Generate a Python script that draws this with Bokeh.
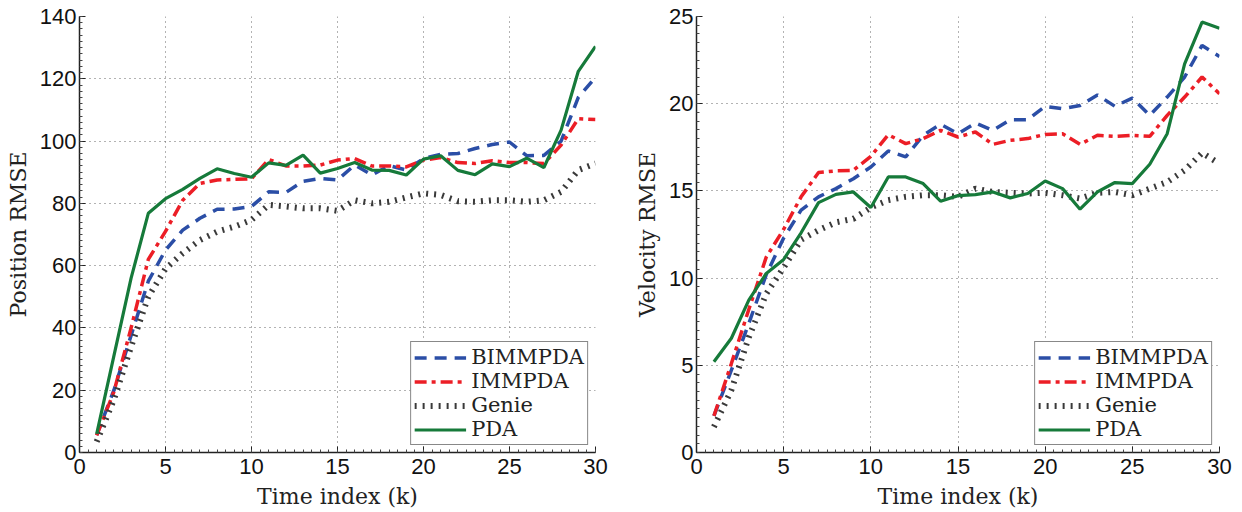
from bokeh.plotting import figure
from bokeh.layouts import row
from bokeh.models import Legend, LegendItem, FixedTicker, Range1d
from bokeh.embed import file_html
from bokeh.resources import INLINE

k = list(range(1, 31))
series_names = ["BIMMPDA", "IMMPDA", "Genie", "PDA"]

pos_bimmpda = [5.6, 20, 37.6, 55, 65, 71.4, 75.2, 78.1, 78.2, 79, 83.7, 83.5, 87.1, 88, 87.5,
               92.3, 89.1, 92.1, 90.7, 94.4, 95.7, 96, 97.6, 98.9, 99.7, 95.3, 95.4, 100, 114, 120.5]
pos_immpda = [5.5, 19.5, 40, 62, 71, 81, 86.4, 87.5, 87.7, 87.9, 94.1, 92, 92, 92.3, 93.9,
              94.4, 92, 92, 91.7, 93.9, 94.7, 93.1, 92.8, 93.7, 93.1, 93.1, 92.8, 98.7, 107.2, 106.9]
pos_genie = [3.5, 17, 34, 50, 59, 64, 68.2, 70.9, 72.5, 74.7, 79.5, 79, 78.4, 78.4, 77.6,
             81, 80, 80.5, 81.9, 83.2, 82.7, 80.7, 80.5, 81, 81, 80.5, 81, 83.7, 90.7, 92.8]
pos_pda = [6, 31, 56, 76.8, 81.5, 84.5, 88, 91.1, 89.6, 88.4, 93, 92.2, 95.5, 89.7, 91.2,
           93.1, 90.7, 90.6, 89.1, 94.2, 95.3, 90.6, 89.2, 92.7, 91.8, 94.5, 91.5, 103.5, 122.4, 130.4]

vel_bimmpda = [2.1, 4.72, 7.4, 10.2, 12.3, 13.9, 14.66, 15.13, 15.7, 16.37, 17.29, 16.95, 18.19, 18.82, 18.28,
               18.89, 18.47, 19.08, 19.08, 19.85, 19.71, 19.9, 20.5, 19.85, 20.32, 19.33, 20.38, 21.53, 23.34, 22.71]
vel_immpda = [2.1, 5.1, 8.2, 11.2, 12.8, 14.66, 16.05, 16.15, 16.18, 16.98, 18.22, 17.71, 18.0, 18.47, 18.09,
              18.38, 17.67, 17.9, 18.0, 18.24, 18.28, 17.67, 18.19, 18.13, 18.19, 18.13, 19.33, 20.38, 21.53, 20.57]
vel_genie = [1.47, 3.58, 6.6, 9.1, 10.6, 12.2, 12.75, 13.2, 13.4, 14.05, 14.47, 14.66, 14.75, 14.75, 14.66,
             15.13, 14.94, 14.89, 14.85, 14.89, 14.75, 14.56, 14.89, 14.94, 14.75, 15.13, 15.51, 16.18, 17.18, 16.56]
vel_pda = [5.2, 6.55, 8.74, 10.27, 11.07, 12.6, 14.33, 14.8, 14.94, 14.05, 15.8, 15.8, 15.42, 14.41, 14.73,
           14.79, 14.94, 14.6, 14.85, 15.57, 15.13, 13.95, 14.94, 15.48, 15.42, 16.53, 18.28, 22.29, 24.68, 24.33]

x_ticks = [0, 5, 10, 15, 20, 25, 30]
pos_ticks = [0, 20, 40, 60, 80, 100, 120, 140]
vel_ticks = [0, 5, 10, 15, 20, 25]

styles = {
    "BIMMPDA": dict(line_color="#2B4EA6", line_width=3.5, line_dash="12 8"),
    "IMMPDA": dict(line_color="#EC1E26", line_width=3.5, line_dash="12 5 4 5"),
    "Genie": dict(line_color="#3A3A3A", line_width=6, line_dash="2 6", line_cap="butt"),
    "PDA": dict(line_color="#167A3A", line_width=3.2),
}

TICK_FONT = "Liberation Sans"
SERIF = "DejaVu Serif"


def make_fig(ylabel, ymax, yticks, ystep_minor, data, fw, bl, br):
    p = figure(frame_width=fw, frame_height=436, output_backend="svg", toolbar_location=None,
               x_range=Range1d(0, 30), y_range=Range1d(0, ymax),
               min_border_left=bl, min_border_right=br, min_border_top=16, min_border_bottom=50)
    p.outline_line_color = None
    p.background_fill_color = "white"
    p.border_fill_color = "white"
    minor_x = [i * 0.5 for i in range(0, 61)]
    minor_y = []
    v = 0.0
    while v <= ymax + 1e-9:
        minor_y.append(round(v, 3))
        v += ystep_minor
    p.xaxis.ticker = FixedTicker(ticks=x_ticks, minor_ticks=minor_x)
    p.yaxis.ticker = FixedTicker(ticks=yticks, minor_ticks=minor_y)
    p.xgrid.ticker = FixedTicker(ticks=x_ticks)
    p.ygrid.ticker = FixedTicker(ticks=yticks)
    for ax in (p.xaxis, p.yaxis):
        ax.axis_line_color = "#222222"
        ax.axis_line_width = 1.5
        ax.major_tick_in = 6
        ax.major_tick_out = 0
        ax.minor_tick_in = 3
        ax.minor_tick_out = 0
        ax.major_tick_line_color = "#222222"
        ax.minor_tick_line_color = "#444444"
        ax.major_label_text_font = TICK_FONT
        ax.major_label_text_font_size = "22px"
        ax.major_label_text_color = "#111111"
        ax.axis_label_text_font = SERIF
        ax.axis_label_text_font_size = "22px"
        ax.axis_label_text_font_style = "normal"
        ax.axis_label_text_color = "#222222"
    p.xaxis.axis_label = "Time index (k)"
    p.yaxis.axis_label = ylabel
    p.xaxis.major_label_standoff = 6
    p.yaxis.major_label_standoff = 3
    p.xaxis.axis_label_standoff = 7
    p.yaxis.axis_label_standoff = 6
    p.grid.grid_line_color = "#666666"
    p.grid.grid_line_dash = "1 4"
    p.grid.grid_line_width = 1

    items = []
    for name, ys in zip(series_names, data):
        r = p.line(k, ys, **styles[name])
        items.append(LegendItem(label=name, renderers=[r]))
    leg = Legend(items=items, location="bottom_right")
    leg.label_text_font = SERIF
    leg.label_text_font_size = "21px"
    leg.label_text_color = "#222222"
    leg.label_height = 19
    leg.glyph_height = 19
    leg.glyph_width = 52
    leg.label_standoff = 5
    leg.spacing = 0
    leg.padding = 3
    leg.margin = 7
    leg.border_line_color = "#111111"
    leg.border_line_width = 1.5
    leg.background_fill_color = "white"
    leg.background_fill_alpha = 1.0
    p.add_layout(leg, "center")
    return p


p1 = make_fig("Position RMSE", 140, pos_ticks, 2,
              [pos_bimmpda, pos_immpda, pos_genie, pos_pda], 516, 79, 37)
p2 = make_fig("Velocity RMSE", 25, vel_ticks, 0.5,
              [vel_bimmpda, vel_immpda, vel_genie, vel_pda], 523, 60, 14)

layout = row(p1, p2)
open("out.html", "w").write(file_html(layout, INLINE))
